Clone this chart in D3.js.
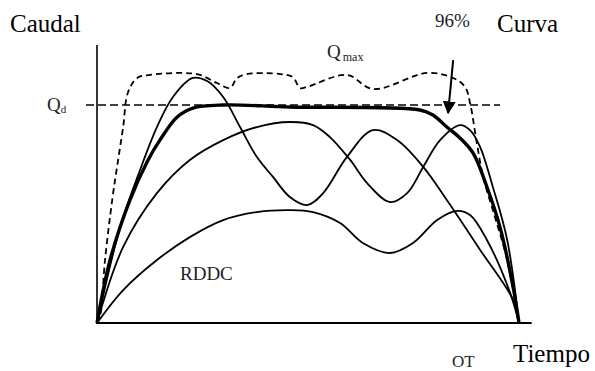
<!DOCTYPE html>
<html>
<head>
<meta charset="utf-8">
<script src="https://cdn.jsdelivr.net/npm/d3@7"></script>
<style>
  body { margin: 0; background: #fff; }
  text { font-family: "Liberation Serif", "Times New Roman", serif; fill: #000; }
  .small { fill: #222; }
</style>
</head>
<body>
<div id="chart"></div>
<script>
// values: time 0-100, flow as % of Qd

var qmax = [[0,0],[0.7,2.8],[1.9,28.9],[3.6,56.4],[5.0,74.8],[6.2,89.9],[7.3,105.5],[9.5,112.4],
  [12.6,113.8],[20.4,114.7],[24.4,113.8],[28.4,110.1],[31.5,107.8],[33.2,112.4],[35.5,114.2],
  [43.4,114.2],[46.4,112.8],[48.1,107.8],[49.8,108.3],[59.2,113.8],[65.4,107.3],[78.2,114.7],
  [84.4,112.4],[87.2,108.3],[88.4,100.9],[90.0,82.6],[91.5,67.0],[93.8,51.8],[97.2,28.9],[100,0]];

var curva96 = [[0,0],[3.1,28.9],[7.8,56.4],[12.1,74.8],[14.9,83.9],[19.0,94.5],[22.7,98.6],
  [29.9,100],[45.7,99.1],[76.5,97.7],[79.6,95.4],[82.9,89.9],[86.0,84.9],[89.1,78.0],
  [92.4,62.4],[95.5,44.0],[98.6,16.5],[100,0]];

var curveA = [[0,0],[5.5,44.0],[10.2,70.2],[14.2,89.9],[18.0,103.7],[22.7,112.4],[26.1,111.0],
  [29.9,103.7],[33.9,89.9],[37.9,76.1],[41.7,67.0],[45.7,57.8],[49.8,54.1],[53.6,59.6],
  [59.2,76.1],[65.4,88.5],[71.1,83.9],[77.3,71.6],[82.9,56.4],[90.8,33.5],[98.6,10.6],[100,0]];

var curveB = [[0,0],[6.2,34.9],[14.2,59.6],[22.0,74.8],[29.9,83.9],[37.9,89.9],[45.7,92.2],
  [51.2,90.8],[55.2,85.3],[60.0,74.8],[64.0,64.2],[69.4,55.5],[73.5,59.6],[77.3,71.6],
  [81.3,83.9],[86.0,90.8],[88.4,88.5],[90.8,80.7],[93.8,62.4],[97.2,38.1],[100,0]];

var rddc = [[0,0],[6.2,15.1],[14.2,28.9],[22.0,39.4],[29.9,47.2],[37.9,50.9],[45.7,51.8],
  [51.2,50.9],[57.6,45.9],[63.0,36.7],[69.4,32.1],[74.9,36.7],[80.6,47.2],[85.3,51.4],
  [88.4,49.5],[92.4,38.1],[97.9,13.8],[100,0]];

var qd = 100;
var arrowFrom = [84.4, 120.6], arrowTo = [83.2, 96.3];

var width = 595, height = 371;

var x = d3.scaleLinear().domain([0, 100]).range([97, 519]);
var y = d3.scaleLinear().domain([0, 100]).range([323, 105]);

var svg = d3.select("#chart").append("svg")
    .attr("width", width)
    .attr("height", height);

svg.append("defs").append("marker")
    .attr("id", "head")
    .attr("viewBox", "0 0 10 10")
    .attr("preserveAspectRatio", "none")
    .attr("markerUnits", "userSpaceOnUse")
    .attr("refX", 9).attr("refY", 5)
    .attr("markerWidth", 13).attr("markerHeight", 13)
    .attr("orient", "auto")
  .append("path")
    .attr("d", "M0,0 L10,5 L0,10 z")
    .attr("fill", "#000");

// axes
svg.append("line")
    .attr("x1", x(0)).attr("x2", x(0))
    .attr("y1", y(127.5)).attr("y2", y(0))
    .attr("stroke", "#000").attr("stroke-width", 1.6);

svg.append("line")
    .attr("x1", x(0) - 1).attr("x2", x(103))
    .attr("y1", y(0)).attr("y2", y(0))
    .attr("stroke", "#000").attr("stroke-width", 2);

// Qd line
svg.append("line")
    .attr("x1", x(-2.6)).attr("x2", x(95.5))
    .attr("y1", y(qd)).attr("y2", y(qd))
    .attr("stroke", "#000").attr("stroke-width", 1.4)
    .attr("stroke-dasharray", "8,4");

var line = d3.line()
    .x(function(d) { return x(d[0]); })
    .y(function(d) { return y(d[1]); })
    .curve(d3.curveCatmullRom.alpha(0.5));

svg.append("path").datum(qmax)
    .attr("d", line).attr("fill", "none")
    .attr("stroke", "#000").attr("stroke-width", 1.8)
    .attr("stroke-dasharray", "6,4");

[curveA, curveB, rddc].forEach(function(s) {
  svg.append("path").datum(s)
      .attr("d", line).attr("fill", "none")
      .attr("stroke", "#000").attr("stroke-width", 1.8);
});

svg.append("path").datum(curva96)
    .attr("d", line).attr("fill", "none")
    .attr("stroke", "#000").attr("stroke-width", 3.4);

// arrow
svg.append("line")
    .attr("x1", x(arrowFrom[0])).attr("y1", y(arrowFrom[1]))
    .attr("x2", x(arrowTo[0])).attr("y2", y(arrowTo[1]))
    .attr("stroke", "#000").attr("stroke-width", 2)
    .attr("marker-end", "url(#head)");

// labels
svg.append("text").attr("x", 10).attr("y", 32).style("font-size", "25px").text("Caudal");
svg.append("text").attr("x", 497).attr("y", 32).style("font-size", "25px").text("Curva");
svg.append("text").attr("class", "small").attr("x", 435).attr("y", 27).style("font-size", "19px").text("96%");
svg.append("text").attr("x", 513).attr("y", 362).style("font-size", "25px").text("Tiempo");
svg.append("text").attr("class", "small").attr("x", 452).attr("y", 367).style("font-size", "17px").text("OT");
svg.append("text").attr("class", "small").attr("x", 180).attr("y", 280).style("font-size", "19px").text("RDDC");

var qdLab = svg.append("text").attr("class", "small").attr("x", 47).attr("y", y(qd) + 6).style("font-size", "19px");
qdLab.append("tspan").text("Q");
qdLab.append("tspan").attr("dy", 2).style("font-size", "11px").text("d");

var qmLab = svg.append("text").attr("class", "small").attr("x", 327).attr("y", 58).style("font-size", "19px");
qmLab.append("tspan").text("Q");
qmLab.append("tspan").attr("dx", 2).attr("dy", 3).style("font-size", "12px").text("max");
</script>
</body>
</html>
